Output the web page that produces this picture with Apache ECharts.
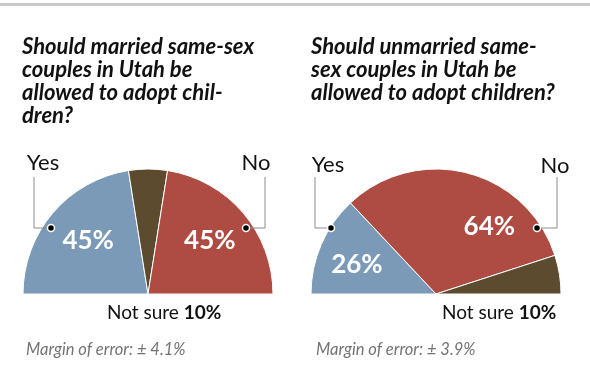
<!DOCTYPE html>
<html><head><meta charset="utf-8">
<script src="https://cdn.jsdelivr.net/npm/echarts@6/dist/echarts.min.js"></script>
<style>html,body{margin:0;padding:0;background:#fff}#c{width:590px;height:367px}</style>
</head><body><div id="c"></div>
<script>
// ---- data ----
const leftTitle = 'Should married same-sex\ncouples in Utah be\nallowed to adopt chil-\ndren?';
const rightTitle = 'Should unmarried same-\nsex couples in Utah be\nallowed to adopt children?';
const leftCategories = ['Yes', 'Not sure', 'No'];
const leftValues = [45, 10, 45];
const rightCategories = ['Yes', 'No', 'Not sure'];
const rightValues = [26, 64, 10];
const leftMargin = 4.1;
const rightMargin = 3.9;

// ---- styles ----
const colorMap = { 'Yes': '#7a9ab8', 'No': '#ae4c43', 'Not sure': '#5c4b2e' };
const FONT = 'Lato';
const leftLabelShift = [[-10, -11], null, [12, -11]];
const rightLabelShift = [[-19, -3], [37, -4], null];

function pieSeries(cats, vals, cx, shifts) {
  return {
    type: 'pie',
    center: [cx, 294],
    radius: [0, 125],
    startAngle: 180,
    endAngle: 0,
    clockwise: true,
    avoidLabelOverlap: false,
    silent: true,
    itemStyle: { borderColor: '#fff', borderWidth: 1 },
    label: {
      show: true, position: 'inside', color: '#fff',
      fontFamily: FONT, fontWeight: 'bold', fontSize: 26,
      formatter: p => p.value + '%'
    },
    labelLine: { show: false },
    labelLayout: function (p) {
      const s = shifts[p.dataIndex];
      return s ? { dx: s[0], dy: s[1] } : {};
    },
    data: cats.map((c, i) => ({
      name: c, value: vals[i],
      itemStyle: { color: colorMap[c] },
      label: { show: c !== 'Not sure' }
    }))
  };
}

function nsText(cats, vals) {
  const v = vals[cats.indexOf('Not sure')];
  return 'Not sure {b|' + v + '%}';
}

const titleBase = { fontFamily: FONT, fontWeight: 'bold', fontStyle: 'italic', fontSize: 22, lineHeight: 23, color: '#111' };
const nsStyle = { fontFamily: FONT, fontWeight: 'normal', fontSize: 19, color: '#111', rich: { b: { fontFamily: FONT, fontSize: 19, fontWeight: 'bold', color: '#111' } } };
const mStyle = { fontFamily: FONT, fontWeight: 'normal', fontStyle: 'italic', fontSize: 16.5, color: '#737373' };

// leader: dot offset from centre, vertical line offset from centre, text offset from line
function leader(cx, dotOff, lineOff, textOff, textY, name) {
  const dotX = cx + dotOff, dotY = 228, lineX = cx + lineOff, topY = 177;
  return [
    { type: 'polyline', shape: { points: [[dotX, dotY], [lineX, dotY], [lineX, topY]] }, style: { stroke: '#8c8c8c', lineWidth: 1, fill: null }, z: 10 },
    { type: 'circle', shape: { cx: dotX, cy: dotY, r: 3.5 }, style: { fill: '#000', stroke: '#fff', lineWidth: 1.5 }, z: 11 },
    { type: 'text', x: lineX + textOff, y: textY, style: { text: name, fontFamily: FONT, fontSize: 22, fill: '#111', align: 'center', verticalAlign: 'middle' }, z: 11 }
  ];
}

const chart = echarts.init(document.getElementById('c'), null, { renderer: 'canvas' });
chart.setOption({
  backgroundColor: '#fff',
  animation: false,
  title: [
    { text: leftTitle, left: 17, top: 30, textStyle: titleBase },
    { text: rightTitle, left: 306, top: 30, textStyle: titleBase },
    { text: nsText(leftCategories, leftValues), left: 102, top: 298, textStyle: nsStyle },
    { text: nsText(rightCategories, rightValues), left: 437, top: 298, textStyle: nsStyle },
    { text: 'Margin of error: \u00b1 ' + leftMargin + '%', left: 21, top: 336, textStyle: mStyle },
    { text: 'Margin of error: \u00b1 ' + rightMargin + '%', left: 311, top: 336, textStyle: mStyle }
  ],
  graphic: [
    { type: 'rect', shape: { x: 0, y: 3, width: 590, height: 3 }, style: { fill: '#cacaca' } },
    ...leader(148, -97, -114, 9, 163, leftCategories[0]),
    ...leader(148, 98, 117, -9, 163, leftCategories[2]),
    ...leader(436, -105, -121, 13, 165, rightCategories[0]),
    ...leader(436, 101, 121, -2, 166, rightCategories[1])
  ],
  series: [
    pieSeries(leftCategories, leftValues, 148, leftLabelShift),
    pieSeries(rightCategories, rightValues, 436, rightLabelShift)
  ]
});
</script></body></html>
